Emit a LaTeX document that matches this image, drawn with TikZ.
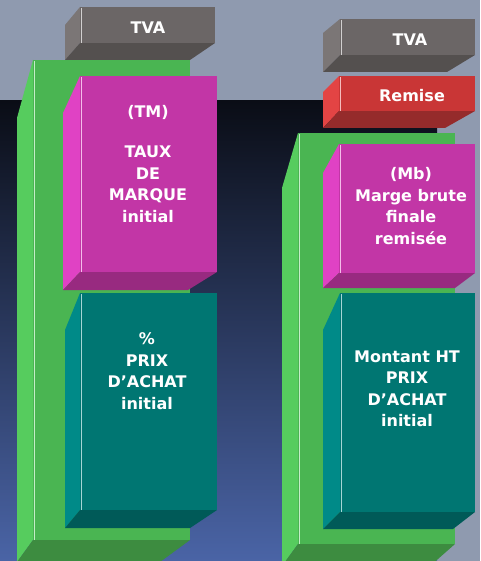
\documentclass[tikz,border=0pt]{standalone}
\usepackage{fontspec}
\newfontfamily\boxfont{DejaVu Sans}
\definecolor{bgGray}{HTML}{8F9AAF}
\definecolor{darkTop}{HTML}{0A0D16}
\definecolor{darkBot}{HTML}{4A64A6}
\definecolor{grnF}{HTML}{4AB552}
\definecolor{grnS}{HTML}{56CC5E}
\definecolor{grnB}{HTML}{3D8C40}
\definecolor{pnkF}{HTML}{C236A6}
\definecolor{pnkS}{HTML}{E042C4}
\definecolor{pnkB}{HTML}{982A80}
\definecolor{tealF}{HTML}{007672}
\definecolor{tealS}{HTML}{008A88}
\definecolor{tealB}{HTML}{005A58}
\definecolor{gryF}{HTML}{6B6666}
\definecolor{gryS}{HTML}{7B7676}
\definecolor{gryB}{HTML}{54504F}
\definecolor{redF}{HTML}{C93636}
\definecolor{redS}{HTML}{E34444}
\definecolor{redB}{HTML}{952B2B}
\tikzset{lbl/.style={text=white, inner sep=0pt, align=center,
    font=\boxfont\bfseries\fontsize{16}{21.5}\selectfont}}
% colour, x1, y1, x2, y2, side shift, side drop, bottom depth, bottom right end
\newcommand{\prism}[9]{%
  \fill[#1S] (#2,#3) -- (#2-#6,#3+#7) -- (#2-#6,#5+#8) -- (#2,#5) -- cycle;
  \fill[#1B] (#2,#5) -- (#2-#6,#5+#8) -- (#9,#5+#8) -- (#4,#5) -- cycle;
  \fill[#1F] (#2,#3) rectangle (#4,#5);
  \draw[white!65!#1S, line width=1.2pt] (#2+1.5,#3+1) -- (#2+1.5,#5);
}
\begin{document}
\begin{tikzpicture}[x=1pt, y=-1pt]
  \useasboundingbox (0,0) rectangle (480,561);
  \clip (0,0) rectangle (480,561);
  \fill[bgGray] (0,0) rectangle (480,561);
  \shade[top color=darkTop, bottom color=darkBot] (0,101) rectangle (437,561);
  % left column
  \prism{grn}{33}{60}{190}{540}{16}{58}{22}{160}
  \prism{gry}{80}{7}{215}{43}{15}{18}{17}{190}
  \prism{pnk}{80}{76}{217}{272}{17}{37}{18}{188}
  \prism{teal}{80}{293}{217}{510}{15}{37}{18}{190}
  \node[lbl] (tvaL) at (148,28) {TVA};
  \node[lbl] (tm) at (148,164) {(TM)\\[19pt]TAUX\\DE\\MARQUE\\initial};
  \node[lbl] (achatL) at (147,371) {\%\\PRIX\\D’ACHAT\\initial};
  % right column
  \prism{gry}{340}{19}{475}{55}{17}{14}{17}{447}
  \prism{red}{339}{76}{475}{111}{16}{16}{17}{445}
  \prism{grn}{298}{133}{455}{544}{16}{55}{22}{430}
  \prism{pnk}{339}{144}{475}{273}{16}{29}{15}{455}
  \prism{teal}{340}{293}{475}{512}{17}{37}{17}{453}
  \node[lbl] (tvaR) at (410,40) {TVA};
  \node[lbl] (remise) at (412,96) {Remise};
  \node[lbl] (mb) at (411,206) {(Mb)\\Marge brute\\finale\\remisée};
  \node[lbl] (achatR) at (407,389) {Montant HT\\PRIX\\D’ACHAT\\initial};
\end{tikzpicture}
\end{document}
